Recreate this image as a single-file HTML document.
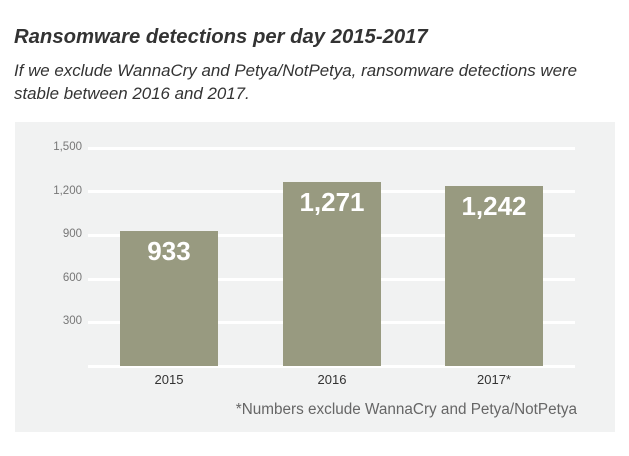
<!DOCTYPE html>
<html><head><style>
body{margin:0;width:629px;height:456px;background:#fff;font-family:"Liberation Sans",sans-serif;position:relative;overflow:hidden}
.t{position:absolute;left:14px;top:26px;font-size:20.3px;font-weight:bold;font-style:italic;color:#333}
.s{position:absolute;left:14px;top:59px;font-size:16.9px;font-style:italic;color:#333;line-height:23px}
.p{position:absolute;left:15px;top:122px;width:600px;height:310px;background:#f1f2f2}
.g{position:absolute;left:88px;width:487px;height:3px;background:#fff}
.y{position:absolute;left:30px;width:52px;text-align:right;font-size:11.5px;color:#777}
.b{position:absolute;background:#989a80;color:#fff;font-weight:bold;font-size:26px;text-align:center;padding-top:5px;box-sizing:border-box}
.x{position:absolute;top:372px;width:100px;text-align:center;font-size:13px;color:#333}
.f{position:absolute;right:52px;top:401px;font-size:15.3px;color:#666}
</style></head><body>
<div class="t">Ransomware detections per day 2015-2017</div>
<div class="s">If we exclude WannaCry and Petya/NotPetya, ransomware detections were<br>stable between 2016 and 2017.</div>
<div class="p"></div>
<div class="g" style="top:147px"></div><div class="y" style="top:141px">1,500</div>
<div class="g" style="top:190px"></div><div class="y" style="top:185px">1,200</div>
<div class="g" style="top:234px"></div><div class="y" style="top:228px">900</div>
<div class="g" style="top:278px"></div><div class="y" style="top:272px">600</div>
<div class="g" style="top:321px"></div><div class="y" style="top:315px">300</div>
<div class="g" style="top:365px"></div>
<div class="b" style="left:120px;top:231px;width:98px;height:135px">933</div>
<div class="b" style="left:283px;top:182px;width:98px;height:184px">1,271</div>
<div class="b" style="left:445px;top:186px;width:98px;height:180px">1,242</div>
<div class="x" style="left:119px">2015</div>
<div class="x" style="left:282px">2016</div>
<div class="x" style="left:444px">2017*</div>
<div class="f">*Numbers exclude WannaCry and Petya/NotPetya</div>
</body></html>
